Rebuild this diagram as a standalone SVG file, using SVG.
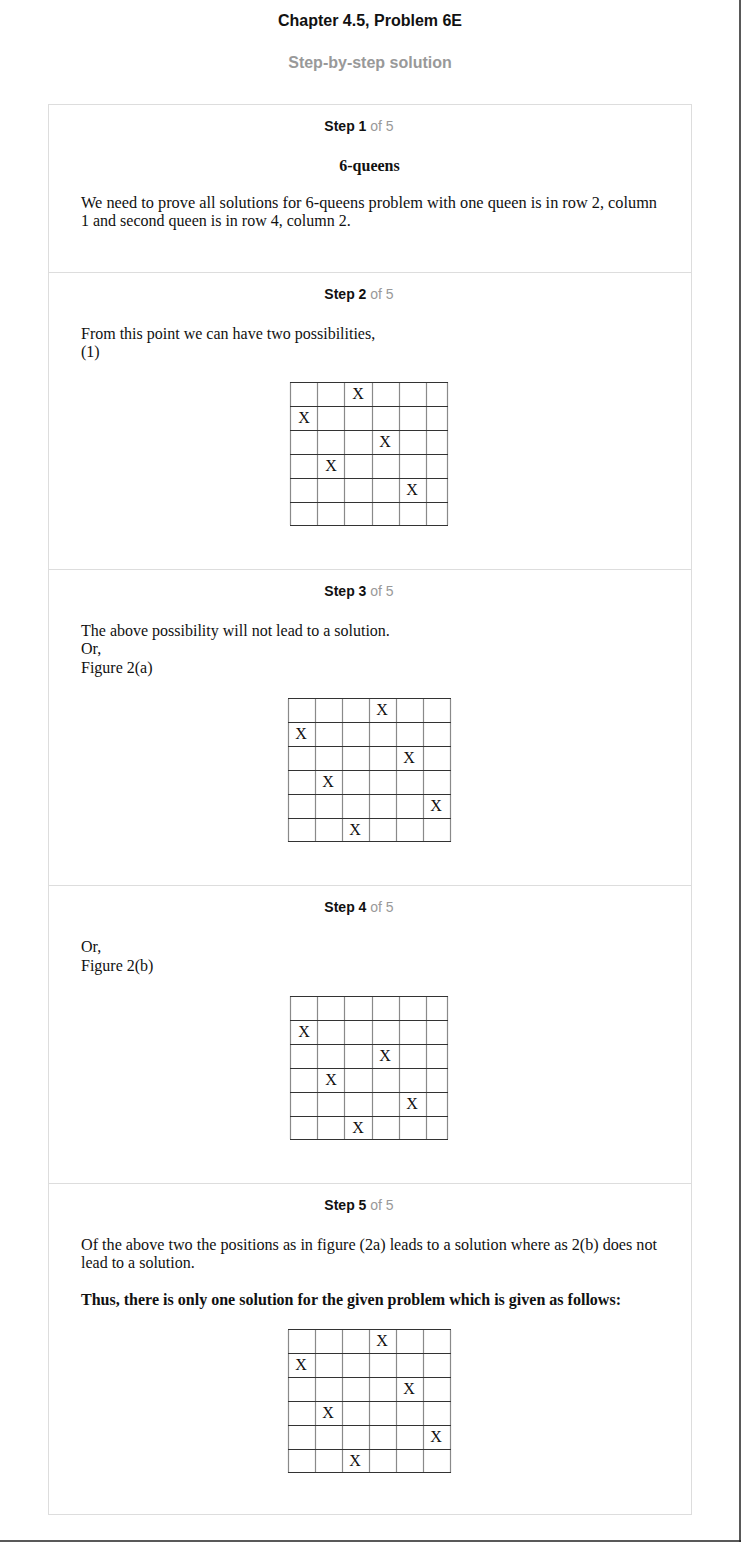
<svg xmlns="http://www.w3.org/2000/svg" width="741" height="1542" viewBox="0 0 741 1542">
<style>
.h{font-family:"Liberation Sans",Arial,sans-serif;font-weight:bold;font-size:16px;text-anchor:middle}
.st{font-family:"Liberation Sans",Arial,sans-serif;font-size:14px;text-anchor:middle;fill:#999}
.st tspan.b{font-weight:bold;fill:#111}
.t{font-family:"Liberation Serif","Times New Roman",serif;font-size:16px;fill:#111}
.tb{font-family:"Liberation Serif","Times New Roman",serif;font-size:16px;font-weight:bold;fill:#111}
.x{font-family:"Liberation Serif","Times New Roman",serif;font-size:16px;fill:#111;text-anchor:middle}
.hl{stroke:#333;stroke-width:1;fill:none}
.vl{stroke:#8a8a8a;stroke-width:1.2;fill:none}
.div{stroke:#dddddd;stroke-width:1;fill:none}
</style>
<rect x="0" y="0" width="741" height="1542" fill="#fff"/>
<line x1="740" y1="0" x2="740" y2="1542" stroke="#222" stroke-width="1.5"/>
<line x1="0" y1="1541" x2="741" y2="1541" stroke="#222" stroke-width="1.5"/>

<g id="header">
<text class="h" x="370" y="26" fill="#111">Chapter 4.5, Problem 6E</text>
<text class="h" x="370" y="68" fill="#999">Step-by-step solution</text>
</g>

<g id="card">
<rect x="48.5" y="104.5" width="643" height="1410" class="div"/>
<line x1="48.5" y1="272.5" x2="691.5" y2="272.5" class="div"/>
<line x1="48.5" y1="569.5" x2="691.5" y2="569.5" class="div"/>
<line x1="48.5" y1="885.5" x2="691.5" y2="885.5" class="div"/>
<line x1="48.5" y1="1183.5" x2="691.5" y2="1183.5" class="div"/>
</g>

<g id="step1">
<text class="st" x="359" y="131"><tspan class="b">Step 1</tspan> of 5</text>
<text class="tb" x="369.5" y="171" text-anchor="middle">6-queens</text>
<text class="t" x="81" y="208" textLength="576" lengthAdjust="spacingAndGlyphs">We need to prove all solutions for 6-queens problem with one queen is in row 2, column</text>
<text class="t" x="81" y="226">1 and second queen is in row 4, column 2.</text>
</g>

<g id="step2">
<text class="st" x="359" y="299"><tspan class="b">Step 2</tspan> of 5</text>
<text class="t" x="81" y="339">From this point we can have two possibilities,</text>
<text class="t" x="81" y="357">(1)</text>
<g id="grid1">
<path class="vl" d="M290.5 382V525M317.5 382V525M344.5 382V525M372.5 382V525M399.5 382V525M426.5 382V525M447.5 382V525"/>
<path class="hl" d="M290 382.5H448M290 406.5H448M290 430.5H448M290 454.5H448M290 478.5H448M290 502.5H448M290 525.5H448"/>
<text class="x" x="358" y="399">X</text>
<text class="x" x="304" y="423">X</text>
<text class="x" x="385" y="447">X</text>
<text class="x" x="331" y="471">X</text>
<text class="x" x="412" y="495">X</text>
</g>
</g>

<g id="step3">
<text class="st" x="359" y="596"><tspan class="b">Step 3</tspan> of 5</text>
<text class="t" x="81" y="636">The above possibility will not lead to a solution.</text>
<text class="t" x="81" y="654">Or,</text>
<text class="t" x="81" y="673">Figure 2(a)</text>
<g id="grid2">
<path class="vl" d="M288.5 699V842M315.5 699V842M342.5 699V842M369.5 699V842M396.5 699V842M423.5 699V842M450.5 699V842"/>
<path class="hl" d="M288 698.5H451M288 722.5H451M288 746.5H451M288 770.5H451M288 794.5H451M288 818.5H451M288 841.5H451"/>
<text class="x" x="382" y="715">X</text>
<text class="x" x="301" y="739">X</text>
<text class="x" x="409" y="763">X</text>
<text class="x" x="328" y="787">X</text>
<text class="x" x="436" y="811">X</text>
<text class="x" x="355" y="835">X</text>
</g>
</g>

<g id="step4">
<text class="st" x="359" y="912"><tspan class="b">Step 4</tspan> of 5</text>
<text class="t" x="81" y="952">Or,</text>
<text class="t" x="81" y="971">Figure 2(b)</text>
<g id="grid3">
<path class="vl" d="M290.5 996V1139M317.5 996V1139M344.5 996V1139M372.5 996V1139M399.5 996V1139M426.5 996V1139M447.5 996V1139"/>
<path class="hl" d="M290 996.5H448M290 1020.5H448M290 1044.5H448M290 1068.5H448M290 1092.5H448M290 1116.5H448M290 1139.5H448"/>
<text class="x" x="304" y="1037">X</text>
<text class="x" x="385" y="1061">X</text>
<text class="x" x="331" y="1085">X</text>
<text class="x" x="412" y="1109">X</text>
<text class="x" x="358" y="1133">X</text>
</g>
</g>

<g id="step5">
<text class="st" x="359" y="1210"><tspan class="b">Step 5</tspan> of 5</text>
<text class="t" x="81" y="1250" textLength="576" lengthAdjust="spacingAndGlyphs">Of the above two the positions as in figure (2a) leads to a solution where as 2(b) does not</text>
<text class="t" x="81" y="1268">lead to a solution.</text>
<text class="tb" x="81" y="1305" textLength="540" lengthAdjust="spacingAndGlyphs">Thus, there is only one solution for the given problem which is given as follows:</text>
<g id="grid4">
<path class="vl" d="M288.5 1330V1473M315.5 1330V1473M342.5 1330V1473M369.5 1330V1473M396.5 1330V1473M423.5 1330V1473M450.5 1330V1473"/>
<path class="hl" d="M288 1329.5H451M288 1353.5H451M288 1377.5H451M288 1401.5H451M288 1425.5H451M288 1449.5H451M288 1472.5H451"/>
<text class="x" x="382" y="1346">X</text>
<text class="x" x="301" y="1370">X</text>
<text class="x" x="409" y="1394">X</text>
<text class="x" x="328" y="1418">X</text>
<text class="x" x="436" y="1442">X</text>
<text class="x" x="355" y="1466">X</text>
</g>
</g>
</svg>
